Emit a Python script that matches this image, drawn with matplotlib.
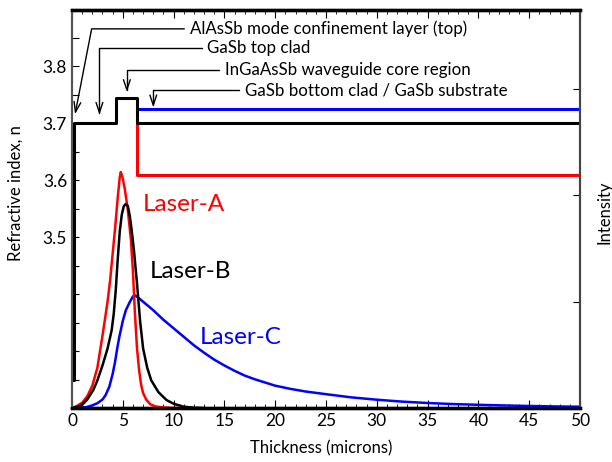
import numpy as np
import matplotlib
matplotlib.use("Agg")
from matplotlib import pyplot as plt
from matplotlib.ticker import FixedLocator, FuncFormatter, MultipleLocator

plt.rcParams['font.family'] = ['Lato', 'DejaVu Sans']

# refractive index profile (left axis)
n_core_x = [0, 0.2, 0.2, 4.35, 4.35, 6.4, 6.4, 50]
n_core = [3.25, 3.25, 3.70, 3.70, 3.745, 3.745, 3.70, 3.70]
n_blue_x = [6.4, 50]
n_blue = [3.725, 3.725]
n_red_x = [6.4, 6.4, 50]
n_red = [3.70, 3.61, 3.61]

# mode intensity (right axis, arbitrary units)
xa = [0, 0.5, 1, 1.5, 2, 2.5, 3, 3.25, 3.5, 3.75, 4.0, 4.25, 4.5, 4.7, 4.8,
      4.95, 5.2, 5.5, 5.8, 6.0, 6.2, 6.4, 6.6, 6.8, 7.0, 7.3, 7.7, 8.2, 9, 10, 12]
ia = [0, 0.02, 0.05, 0.11, 0.21, 0.38, 0.68, 0.84, 1.0, 1.2, 1.45, 1.7, 1.98,
      2.17, 2.22, 2.18, 2.06, 1.86, 1.58, 1.28, 0.88, 0.56, 0.36, 0.22, 0.14,
      0.08, 0.035, 0.015, 0.005, 0, 0]

xb = [0, 0.5, 1, 1.5, 2.1, 2.5, 3, 3.5, 3.9, 4.1, 4.3, 4.5, 4.7, 4.9, 5.1,
      5.3, 5.5, 5.7, 5.9, 6.1, 6.4, 6.7, 7.0, 7.4, 7.8, 8.5, 9.3, 10, 11, 12, 13]
ib = [0, 0.01, 0.03, 0.08, 0.17, 0.26, 0.4, 0.56, 0.73, 0.88, 1.1, 1.4, 1.66,
      1.82, 1.9, 1.92, 1.9, 1.8, 1.65, 1.48, 1.17, 0.82, 0.56, 0.38, 0.26,
      0.15, 0.075, 0.04, 0.012, 0.003, 0]

xc = [0, 1, 1.5, 2, 2.5, 3, 3.3, 3.67, 4.0, 4.23, 4.45, 4.66, 5.0, 5.3, 5.7,
      6.0, 6.2, 6.5, 7, 7.5, 8, 8.5, 9, 10, 11, 12, 13, 14, 15, 16, 17, 18,
      19, 20, 21.5, 23, 25, 27.5, 30, 32.5, 35, 37.5, 40, 42.5, 45, 47.5, 50]
ic = [0, 0.005, 0.01, 0.025, 0.045, 0.08, 0.12, 0.2, 0.32, 0.43, 0.56, 0.67,
      0.82, 0.92, 1.0, 1.05, 1.06, 1.04, 1.0, 0.96, 0.92, 0.875, 0.83, 0.75,
      0.67, 0.59, 0.52, 0.455, 0.4, 0.35, 0.305, 0.27, 0.24, 0.21, 0.18, 0.155,
      0.13, 0.1, 0.078, 0.06, 0.047, 0.037, 0.03, 0.024, 0.019, 0.015, 0.012]

# layer labels: text, text position, arrow tip, angle of final segment
layers = [
    ("AlAsSb mode confinement layer (top)", (11.6, 3.866), (0.3, 3.716), 79),
    ("GaSb top clad", (13.3, 3.833), (2.7, 3.715), 90),
    ("InGaAsSb waveguide core region", (15.05, 3.793), (5.4, 3.755), 90),
    ("GaSb bottom clad / GaSb substrate", (17.0, 3.758), (8.0, 3.728), 90),
]

fig = plt.figure(figsize=(6.12, 4.62), dpi=100)
ax = fig.add_axes([72/612, 54/462, 508/612, 398.5/462])
ax2 = ax.twinx()

ax.plot(n_red_x, n_red, color='#ff0000', lw=2.2, zorder=3)
ax.plot(n_blue_x, n_blue, color='#0000ff', lw=2.2, zorder=3)
ax.plot(n_core_x, n_core, color='k', lw=2.2, zorder=4)

ax2.plot(xc, ic, color='#0000ff', lw=1.8)
ax2.plot(xa, ia, color='#ff0000', lw=1.8)
ax2.plot(xb, ib, color='k', lw=1.8)

ax.set_xlim(0, 50)
ax.set_ylim(3.2, 3.9)
ax2.set_ylim(0, 3.75)

for txt, pos, tip, ang in layers:
    ax.annotate(txt, xy=tip, xytext=pos, ha='left', va='center', fontsize=12.2,
                arrowprops=dict(arrowstyle='->,head_length=0.6,head_width=0.2',
                                color='k', lw=1.0, shrinkA=2, shrinkB=0,
                                connectionstyle='angle,angleA=0,angleB=%d,rad=0' % ang))

ax.text(7.0, 3.557, 'Laser-A', color='#ff0000', fontsize=17.5, ha='left', va='center')
ax.text(7.7, 3.439, 'Laser-B', color='k', fontsize=17.5, ha='left', va='center')
ax.text(12.6, 3.324, 'Laser-C', color='#0000ff', fontsize=17.5, ha='left', va='center')

ax.xaxis.set_major_locator(MultipleLocator(5))
ax.xaxis.set_minor_locator(MultipleLocator(1))
ax.yaxis.set_major_locator(FixedLocator(np.arange(3.2, 3.86, 0.05)))
ax.yaxis.set_major_formatter(FuncFormatter(
    lambda v, p: '%.1f' % v if 3.45 < v < 3.85 and abs(v*10 - round(v*10)) < 1e-6 else ''))
ax.tick_params(axis='x', which='both', direction='in', top=True, labelsize=12.5)
ax.tick_params(axis='x', which='major', length=6)
ax.tick_params(axis='x', which='minor', length=3)
ax.tick_params(axis='y', direction='in', length=5, labelsize=12.5)
ax2.yaxis.set_major_locator(FixedLocator([0, 1, 2, 3]))
ax2.tick_params(axis='y', direction='in', length=5, labelright=False)

for a in (ax, ax2):
    a.spines['top'].set_linewidth(2.4)
    a.spines['bottom'].set_linewidth(2.4)
    a.spines['left'].set_color('#555555')
    a.spines['left'].set_linewidth(1.5)
    a.spines['right'].set_color('#444444')
    a.spines['right'].set_linewidth(1.5)

ax.set_xlabel('Thickness (microns)', fontsize=12)
ax.xaxis.set_label_coords(0.49, -0.082)
ax.set_ylabel('Refractive index, n', fontsize=12)
ax.yaxis.set_label_coords(-0.096, 0.54)
ax2.set_ylabel('Intensity', fontsize=12)
ax2.yaxis.set_label_coords(1.033, 0.49)

fig.savefig('out.png', dpi=100)
